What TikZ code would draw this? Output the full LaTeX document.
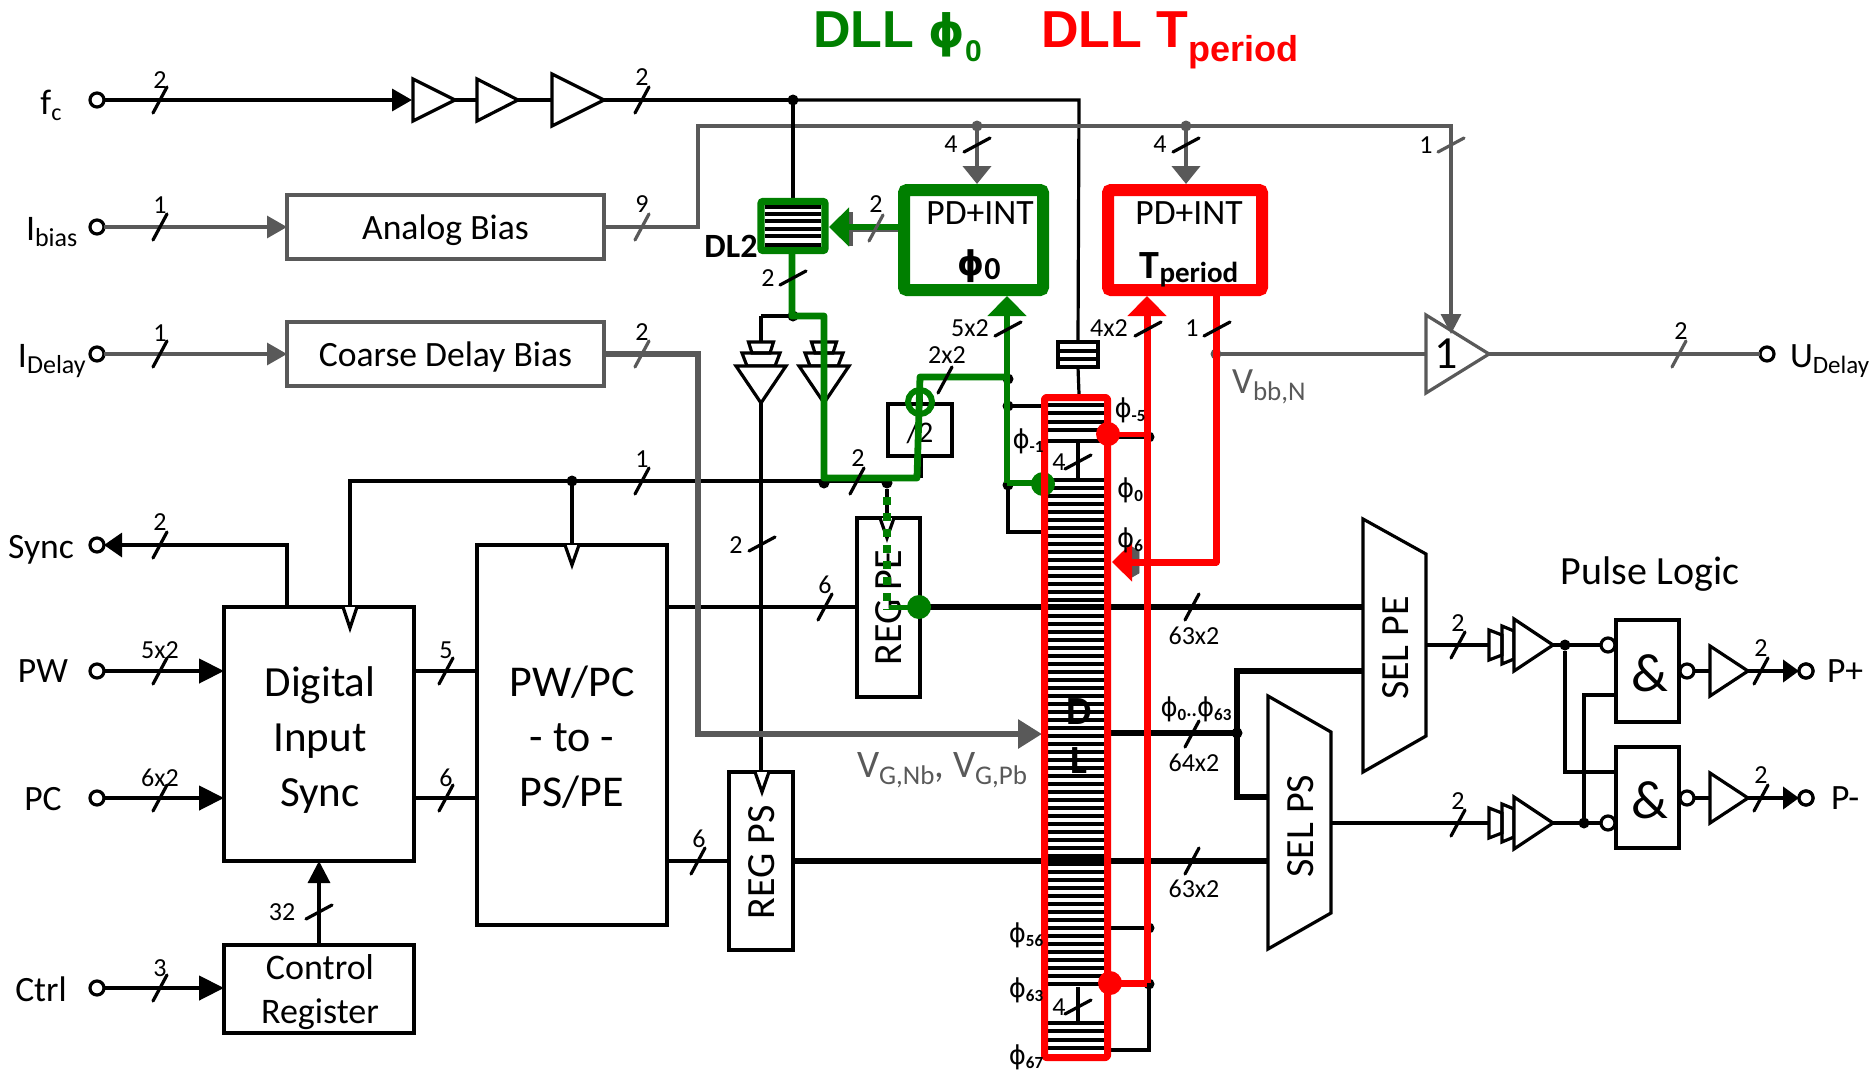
\documentclass[tikz,border=0pt]{standalone}
\usepackage{fontspec}
\setmainfont{Carlito}
\newfontfamily\dv{DejaVu Sans}
\newfontfamily\ar{Liberation Sans}
\usetikzlibrary{arrows.meta}
\definecolor{gr}{HTML}{595959}
\definecolor{dg}{HTML}{007F00}
\definecolor{rd}{HTML}{FF0000}
\newcommand\fs[1]{\fontsize{#1}{#1}\selectfont}
\newcommand\lowt[2]{\raisebox{-0.35ex}{\fs{#1}#2}}
\newcommand\lowb[2]{\raisebox{-0.5ex}{\fs{#1}#2}}
\newcommand\phl[1]{{\fs{13}\dv ϕ}\lowt{8.5}{\bfseries #1}}
\newcounter{lbc}
% text node: x,y,options,text
\newcommand\tx[4]{\stepcounter{lbc}\node[txt,#3] (t\arabic{lbc}) at (#1,#2) {#4};}
\newcommand\lbl[3]{\tx{#1}{#2}{font=\fs{13}}{#3}}
% block by centre-line corners
\newcommand\blk[7]{\pgfmathsetmacro\bx{(#2+#4)/2}\pgfmathsetmacro\by{(#3+#5)/2}\pgfmathsetmacro\bw{(#4-#2)*0.5}\pgfmathsetmacro\bh{(#5-#3)*0.5}\node[#6,minimum width=\bw pt,minimum height=\bh pt] (#1) at (\bx,\by) {#7};}
% bus ticks
\newcommand\slsh[3][black]{\pgfmathsetmacro\xa{#2-7}\pgfmathsetmacro\xb{#2+7}\pgfmathsetmacro\ya{#3+13}\pgfmathsetmacro\yb{#3-13}\draw[tick,#1] (\xa,\ya) -- (\xb,\yb);}
\newcommand\slf[3][black]{\pgfmathsetmacro\xa{#2-13}\pgfmathsetmacro\xb{#2+13}\pgfmathsetmacro\ya{#3+7}\pgfmathsetmacro\yb{#3-7}\draw[tick,#1] (\xa,\ya) -- (\xb,\yb);}
% right-pointing buffer: name,xleft,y,halfheight,xtip,colour
\newcommand\buf[6]{\pgfmathsetmacro\ya{#3-#4}\pgfmathsetmacro\yb{#3+#4}\coordinate (#1i) at (#2,#3);\coordinate (#1o) at (#5,#3);\draw[line width=1.6pt,draw=#6,fill=white,line join=miter] (#2,\ya) -- (#5,#3) -- (#2,\yb) -- cycle;}
% downward buffer stack
\newcommand\vst[2]{\pgfmathsetmacro\p{#2}\coordinate (#1i) at (\p,342);\coordinate (#1o) at (\p,403);
\draw[line width=1.6pt] ({\p-12.5},342) -- ({\p+12.5},342) -- ({\p+9},353) -- ({\p-9},353) -- cycle;
\draw[line width=1.6pt] ({\p-19},353) -- ({\p+19},353) -- ({\p+14},366) -- ({\p-14},366) -- cycle;
\draw[line width=1.6pt,fill=white] ({\p-25},366) -- ({\p+25},366) -- (\p,403) -- cycle;}
% rightward buffer stack
\newcommand\hst[2]{\pgfmathsetmacro\p{#2}\coordinate (#1i) at (1489,\p);\coordinate (#1o) at (1553,\p);
\draw[line width=1.6pt] (1489,{\p-15}) -- (1502,{\p-10}) -- (1502,{\p+10}) -- (1489,{\p+15}) -- cycle;
\draw[line width=1.6pt] (1502,{\p-19}) -- (1514,{\p-14}) -- (1514,{\p+14}) -- (1502,{\p+19}) -- cycle;
\draw[line width=1.6pt,fill=white] (1514,{\p-26}) -- (1553,\p) -- (1514,{\p+26}) -- cycle;}
% open clock triangle: x, ytop, ytip
\newcommand\clk[3]{\draw[line width=1.6pt,fill=white,line join=miter] ({#1-7},#2) -- (#1,#3) -- ({#1+7},#2);}
\tikzset{
 txt/.style={inner sep=0pt,outer sep=0pt,text depth=0pt},
 bx/.style={draw,fill=white,line width=1.6pt,inner sep=0pt,outer sep=0pt},
 gbx/.style={draw=gr,fill=white,line width=2pt,inner sep=0pt,outer sep=0pt,font=\fs{17.8},text depth=0pt},
 tick/.style={line width=1.6pt,line cap=round},
 term/.style={circle,draw,fill=white,line width=1.6pt,minimum size=7pt,inner sep=0pt,outer sep=0pt},
 bub/.style={circle,draw,fill=white,line width=1.6pt,minimum size=7pt,inner sep=0pt,outer sep=0pt},
 dot/.style={circle,fill=black,minimum size=5.5pt,inner sep=0pt,outer sep=0pt},
 gdot/.style={circle,fill=gr,minimum size=5.5pt,inner sep=0pt,outer sep=0pt},
 bigg/.style={circle,fill=dg,minimum size=12pt,inner sep=0pt,outer sep=0pt},
 bigr/.style={circle,fill=rd,minimum size=12pt,inner sep=0pt,outer sep=0pt},
 w/.style={line width=1.6pt,line join=miter},
 wm/.style={line width=2.2pt,line join=miter},
 wt/.style={line width=3pt,line join=miter},
 gw/.style={line width=1.6pt,draw=gr},
 gm/.style={line width=2pt,draw=gr,line join=miter},
 gt/.style={line width=3pt,draw=gr,line join=miter},
 gl/.style={line width=3.4pt,draw=dg,line join=round},
 rl/.style={line width=3.5pt,draw=rd,line join=round},
 tri/.style={-{Triangle[length=10pt,width=11pt]}},
 trib/.style={-{Triangle[length=12pt,width=14pt]}},
 trig/.style={-{Triangle[length=10pt,width=19pt]}},
}
\begin{document}
\begin{tikzpicture}[x=0.5pt,y=-0.5pt]
\useasboundingbox (0,0) rectangle (1870,1071);
% ---------- terminals (left and right)
\node[term] (tFc) at (97,100) {};
\node[term] (tIb) at (97,227) {};
\node[term] (tId) at (97,354) {};
\node[term] (tSy) at (97,545) {};
\node[term] (tPW) at (97,671) {};
\node[term] (tPC) at (97,798) {};
\node[term] (tCt) at (97,988) {};
\node[term] (tUd) at (1767,354) {};
\node[term] (tPp) at (1806,671) {};
\node[term] (tPm) at (1806,798) {};
% ---------- junction coordinates
\coordinate (jFc) at (793,100);
\coordinate (cTop) at (1079,100);
\coordinate (jClk) at (572,481);
\coordinate (busL) at (350,481);
\coordinate (jB1) at (824,481);
\coordinate (jB2) at (887,481);
\coordinate (busR) at (918,481);
% ---------- blocks
\blk{aBias}{287}{195}{604}{259}{gbx}{Analog Bias}
\blk{cBias}{287}{322}{604}{386}{gbx}{Coarse Delay Bias}
\blk{dIn}{224}{607}{414}{861}{bx}{}
\tx{320}{740}{align=center,text depth=,font=\fontsize{21.5}{27.5}\selectfont}{Digital\\Input\\Sync}
\blk{cReg}{224}{945}{414}{1033}{bx}{}
\tx{320}{992}{align=center,text depth=,font=\fontsize{18}{22}\selectfont}{Control\\Register}
\blk{pwpc}{477}{545}{667}{925}{bx}{}
\tx{572}{737}{align=center,text depth=,font=\fontsize{22}{27.5}\selectfont}{PW/PC\\- to -\\PS/PE}
\blk{regPS}{729}{772}{793}{950}{bx}{}
\blk{regPE}{857}{518}{920}{697}{bx}{}
\blk{div}{888}{404}{952}{456}{bx}{}
\blk{smallB}{1058}{342}{1098}{367}{bx}{}
\draw[w] (smallB.west |- 0,351) -- (smallB.east |- 0,351);
\draw[w] (smallB.west |- 0,359) -- (smallB.east |- 0,359);
\tx{920}{432}{font=\fs{15}}{/2}
% ---------- grey bias lines
\draw[w] (jFc) -- (cTop) -- (smallB.north);
\draw[w] (smallB.south) -- (1079,394);
\draw[gm] (aBias.east) -- (698,227) -- (698,126) -- (1186,126);
\node[gdot] (gd1) at (977,126) {};
\node[gdot] (gd2) at (1186,126) {};
% ---------- left inputs
\draw[line width=1.75pt,tri] (tFc) -- (412,100);
\buf{bA}{413}{100}{21}{455}{black}
\buf{bB}{477}{100}{21}{518}{black}
\buf{bC}{552}{100}{26}{604}{black}
\draw[w] (bAo) -- (bBi);
\draw[w] (bBo) -- (bCi);
\draw[w] (bCo) -- (jFc);
\node[dot] (dFc) at (jFc) {};
\draw[gw,tri] (tIb) -- (aBias.west);
\draw[gw,tri] (tId) -- (cBias.west);
\draw[w,-{Triangle[length=9pt,width=12pt]}] (dIn.north -| 287,0) -- (287,545) -- (tSy);
\draw[wm,-{Triangle[length=12.5pt,width=12pt]}] (tPW) -- (dIn.west |- tPW);
\draw[wm,-{Triangle[length=12.5pt,width=12pt]}] (tPC) -- (dIn.west |- tPC);
\draw[wm,-{Triangle[length=12.5pt,width=12pt]}] (tCt) -- (cReg.west |- tCt);
\draw[wm] (dIn.east |- tPW) -- (pwpc.west |- tPW);
\draw[wm] (dIn.east |- tPC) -- (pwpc.west |- tPC);
\draw[w,-{Triangle[length=11pt,width=11pt]}] (cReg.north) -- (dIn.south);
% ---------- control bus
\draw[w] (busL |- dIn.north) -- (busL) -- (jB2);
\draw[w] (jClk) -- (jClk |- pwpc.north);
\node[dot] (dClk) at (jClk) {};
\clk{350}{607}{628}
\clk{572}{545}{565}
% ---------- DL2 and drivers
\draw[w] (jFc) -- (793,198);
\draw[w] (761,316) -- (793,316);
\draw[w] (761,316) -- (761,342);
\draw[w] (824,316) -- (824,342);
\vst{sA}{761}
\vst{sB}{824}
\draw[w] (sAo) -- (regPS.north -| sAo);
\clk{762}{772}{792}
\node[dot] (dDr) at (793,316) {};
\node[dot] (dB1) at (824,483) {};
\node[dot] (dB2) at (887,483) {};
\draw[w] (dB2) -- (887,518);
\clk{887}{518}{538}
\draw[w] (921,377) -- (921,404);
\draw[w] (921,456) -- (921,478);
% ---------- register links
\draw[w] (pwpc.east |- 0,607) -- (regPE.west |- 0,607);
\draw[w] (pwpc.east |- 0,861) -- (regPS.west |- 0,861);
% ---------- coarse bias to DL
\draw[gt,trib] (cBias.east) -- (698,354) -- (698,734) -- (1042,734);
% ---------- DL stripes
\foreach \yy in {405,413,422,430,441}{\draw[line width=1.6pt] (1048,\yy) -- (1104,\yy);}
\foreach \yy in {480,488,...,984}{\draw[line width=1.6pt] (1048,\yy) -- (1104,\yy);}
\foreach \yy in {1023,1031,1040,1048}{\draw[line width=1.6pt] (1048,\yy) -- (1104,\yy);}
\draw[w] (1078,441) -- (1078,480);
\draw[w] (1078,987) -- (1078,1023);
\tx{1079}{712}{font=\fs{20}\bfseries}{D}
\tx{1079}{761}{font=\fs{20}\bfseries}{L}
% ---------- muxes
\draw[w,fill=white] (1363,519) -- (1426,554) -- (1426,736) -- (1363,772) -- cycle;
\draw[w,fill=white] (1268,696) -- (1331,732) -- (1331,913) -- (1268,949) -- cycle;
\coordinate (pe1) at (1363,607);
\coordinate (pe2) at (1363,671);
\coordinate (peo) at (1426,645);
\coordinate (ps1) at (1268,797);
\coordinate (ps2) at (1268,861);
\coordinate (pso) at (1331,823);
\coordinate (jPh) at (1237,733);
\tx{1396}{648}{rotate=90,font=\fs{20}}{SEL PE}
\tx{1301}{826}{rotate=90,font=\fs{20}}{SEL PS}
\tx{762}{862}{rotate=90,font=\fs{20}}{REG PS}
\tx{889}{608}{rotate=90,font=\fs{20}}{REG PE}
\draw[wt] (regPE.east |- pe1) -- (pe1);
\draw[wt] (regPS.east |- ps2) -- (ps2);
\draw[wt] (1104,733) -- (jPh);
\draw[wt] (pe2) -- (1237,671) -- (1237,797) -- (ps1);
\node[dot] (dPh) at (jPh) {};
% ---------- DL side taps (black)
\draw[w] (1008,406) -- (1048,406);
\draw[w] (1008,379) -- (1008,532) -- (1048,532);
\node[dot] (dA1) at (1008,379) {};
\node[dot] (dA2) at (1008,406) {};
\node[dot] (dA3) at (1008,485) {};
\draw[w] (1104,437) -- (1149,437);
\draw[w] (1104,928) -- (1149,928);
\draw[w] (1149,984) -- (1149,1050) -- (1104,1050);
\node[dot] (dR1) at (1149,437) {};
\node[dot] (dR2) at (1149,928) {};
\node[dot] (dR3) at (1149,984) {};
% ---------- Pulse logic
\hst{hA}{645}
\hst{hB}{823}
\blk{andA}{1616}{620}{1679}{722}{bx}{}
\blk{andB}{1616}{747}{1679}{848}{bx}{}
\tx{1650}{673}{font=\fs{27}}{\&}
\tx{1650}{800}{font=\fs{27}}{\&}
\draw[w] (peo) -- (hAi);
\draw[w] (pso) -- (hBi);
\node[bub] (iA) at (1608,645) {};
\node[bub] (iB) at (1608,823) {};
\node[bub] (oA) at (1687,671) {};
\node[bub] (oB) at (1687,798) {};
\draw[w] (hAo) -- (iA);
\draw[w] (hBo) -- (iB);
\node[dot] (jA) at (1565,645) {};
\node[dot] (jB) at (1584,823) {};
\draw[w] (jA) -- (1565,772) -- (1616,772);
\draw[w] (jB) -- (1584,695) -- (1616,695);
\buf{bP}{1710}{671}{25}{1748}{black}
\buf{bM}{1710}{798}{25}{1748}{black}
\draw[w] (oA) -- (bPi);
\draw[w] (oB) -- (bMi);
\draw[wm,-{Triangle[length=8pt,width=11pt]}] (bPo) -- (tPp);
\draw[wm,-{Triangle[length=8pt,width=11pt]}] (bMo) -- (tPm);
\node[term] (tPp2) at (tPp) {};
\node[term] (tPm2) at (tPm) {};
% ---------- U delay amplifier
\buf{amp}{1426}{354}{39}{1489}{gr}
\tx{1446}{354}{font=\fs{23}}{1}
\draw[gw,-{Triangle[length=10pt,width=10pt]}] (1186,126) -- (1451,126) -- (1451,334);
\draw[gw] (1216,354) -- (ampi);
\draw[gw] (ampo) -- (tUd);
\node[gdot] (gd3) at (1216,354) {};
% ---------- green loop
\blk{pd0}{904}{190}{1043}{290}{draw=dg,fill=white,line width=6pt,rounded corners=1.5pt,inner sep=0pt,outer sep=0pt}{}
\blk{pdT}{1108}{190}{1262}{290}{draw=rd,fill=white,line width=6pt,rounded corners=1.5pt,inner sep=0pt,outer sep=0pt}{}
\tx{980}{213}{font=\fs{17.8}}{PD+INT}
\tx{1189}{213}{font=\fs{17.8}}{PD+INT}
\tx{979}{263}{font=\bfseries}{{\fs{17}\dv ϕ}\lowt{16}{0}}
\tx{1189}{266}{font=\bfseries}{{\fs{20}T}\lowt{14.5}{period}}
\draw[gm,-{Triangle[length=9pt,width=14pt]}] (977,126) -- (977,184);
\draw[gm,-{Triangle[length=9pt,width=14pt]}] (1186,126) -- (1186,184);
\coordinate (dl2R) at (829,227);
\draw[gw] (898,230) -- (845,230);
\fill[gr] (849,212) -- (853,212) -- (853,246) -- (849,246) -- cycle;
\blk{dl2}{761}{201.5}{825}{250.5}{draw=dg,fill=white,line width=3.6pt,rounded corners=1pt,inner sep=0pt,outer sep=0pt}{}
\foreach \yy in {207,214,221,229,236,245}{\draw[line width=1.6pt] (765,\yy) -- (821,\yy);}
\draw[gl,trig] (898,227) -- (dl2R);
\draw[gl] (792,254) -- (792,316) -- (824,316) -- (824,478) -- (917,478) -- (920,377) -- (1007,377);
\draw[gl,trig] (1007,483) -- (1007,296);
\draw[gl] (1007,483) -- (1043,483);
\node[bigg] (gDot) at (1043,484) {};
\node[circle,draw=dg,line width=3pt,minimum size=12pt,inner sep=0pt,outer sep=0pt] (ring) at (920,402) {};
\draw[line width=4pt,draw=dg,dash pattern=on 4pt off 4pt] (887,497) -- (887,610);
\draw[line width=2.5pt,draw=dg] (889,607) -- (919,607);
\node[bigg] (gDot2) at (919,607) {};
% ---------- red loop
\draw[rl,rounded corners=1pt] (1044.5,397.5) rectangle (1107.5,1057.5);
\draw[gr,fill=gr] (1132,547) -- (1139,551) -- (1139,573) -- (1132,577) -- cycle;
\draw[rl,trig] (1147,983) -- (1147,296);
\draw[rl,trig] (1216,296) -- (1216,562) -- (1112,562);
\draw[line width=2.5pt,draw=rd] (1108,434) -- (1147,434);
\draw[rl] (1110,983) -- (1147,983);
\node[bigr] (rDot) at (1108,434) {};
\node[bigr] (rDot2) at (1110,983) {};
% ---------- bus ticks and counts
\slsh{160}{100}\lbl{160}{80}{2}
\slsh{160}{227}\lbl{160}{205}{1}
\slsh{160}{354}\lbl{160}{333}{1}
\slsh{160}{545}\lbl{160}{522}{2}
\slsh{160}{671}\lbl{160}{650}{5x2}
\slsh{160}{798}\lbl{160}{778}{6x2}
\slsh{160}{988}\lbl{160}{968}{3}
\slsh{446}{671}\lbl{446}{650}{5}
\slsh{446}{798}\lbl{446}{778}{6}
\slf{319}{912}\lbl{282}{912}{32}
\slsh{642}{100}\lbl{642}{77}{2}
\slsh[gr]{642}{227}\lbl{642}{204}{9}
\slsh[gr]{642}{354}\lbl{642}{332}{2}
\slsh{642}{481}\lbl{642}{459}{1}
\slf{977}{145}\lbl{951}{144}{4}
\slf{1186}{145}\lbl{1160}{144}{4}
\slsh[gr]{876}{228}\lbl{876}{204}{2}
\slf{793}{278}\lbl{768}{278}{2}
\slf{1008}{329}\lbl{970}{328}{5x2}
\slf{1148}{329}\lbl{1109}{328}{4x2}
\slf{1217}{329}\lbl{1192}{328}{1}
\slsh{945}{380}\lbl{947}{355}{2x2}
\slsh{857}{481}\lbl{858}{458}{2}
\slf{762}{544}\lbl{736}{545}{2}
\slsh{825}{607}\lbl{825}{585}{6}
\slsh{698}{861}\lbl{699}{839}{6}
\slf{1078}{462}\lbl{1059}{462}{4}
\slf{1078}{1007}\lbl{1059}{1007}{4}
\slsh{1192}{607}\lbl{1194}{636}{63x2}
\slsh{1192}{734}\lbl{1194}{763}{64x2}
\slsh{1192}{861}\lbl{1194}{889}{63x2}
\slsh{1458}{645}\lbl{1458}{623}{2}
\slsh{1458}{823}\lbl{1458}{801}{2}
\slsh{1761}{671}\lbl{1761}{648}{2}
\slsh{1761}{798}\lbl{1761}{775}{2}
\slf[gr]{1451}{145}\lbl{1426}{145}{1}
\slsh[gr]{1679}{354}\lbl{1681}{331}{2}
% ---------- phase labels
\tx{1130}{408}{}{\phl{-5}}
\tx{1028}{439}{}{\phl{-1}}
\tx{1130}{488}{}{\phl{0}}
\tx{1130}{538}{}{\phl{6}}
\tx{1026}{933}{}{\phl{56}}
\tx{1026}{988}{}{\phl{63}}
\tx{1026}{1055}{}{\phl{67}}
\tx{1196}{707}{}{\phl{0}{\fs{10}\bfseries ..}\phl{63}}
% ---------- names
\tx{731}{246}{font=\fs{17}\bfseries}{DL2}
\tx{51}{102}{font=\fs{17.8}}{f\lowt{12}{c}}
\tx{26}{229}{anchor=west,font=\fs{18}}{I\lowt{13}{bias}}
\tx{18}{356}{anchor=west,font=\fs{18}}{I\lowt{13}{Delay}}
\tx{41}{547}{font=\fs{17.8}}{Sync}
\tx{43}{671}{font=\fs{17.8}}{PW}
\tx{43}{799}{font=\fs{17.8}}{PC}
\tx{41}{989}{font=\fs{17.8}}{Ctrl}
\tx{1790}{356}{anchor=west,font=\fs{17.8}}{U\lowt{12.5}{Delay}}
\tx{1827}{671}{anchor=west,font=\fs{17.8}}{P+}
\tx{1831}{798}{anchor=west,font=\fs{17.8}}{P-}
\tx{1650}{571}{font=\fs{20}}{Pulse Logic}
\tx{1232}{382}{anchor=west,text=gr,font=\fs{18.5}}{V\lowt{13.5}{bb,N}}
\tx{857}{765}{anchor=west,text=gr,font=\fs{19.5}}{V\lowt{13.5}{G,Nb},~V\lowt{13.5}{G,Pb}}
% ---------- titles
\tx{813}{30}{anchor=west,text=dg,font=\fs{26}\bfseries\ar}{DLL {\dv\fs{23}ϕ}\lowb{15}{0}}
\tx{1041}{30}{anchor=west,text=rd,font=\fs{26}\bfseries\ar}{DLL T\lowb{18}{period}}
\end{tikzpicture}
\end{document}
